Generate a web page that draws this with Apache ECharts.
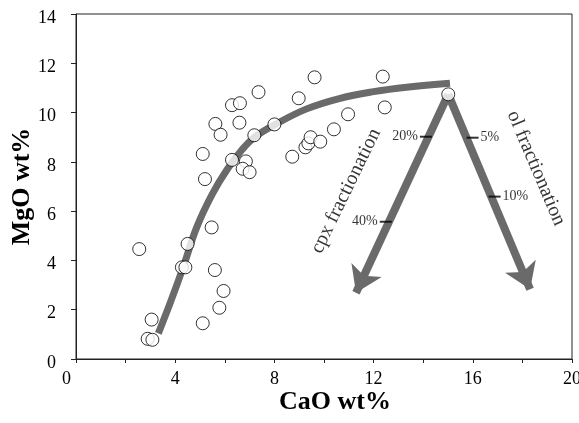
<!DOCTYPE html>
<html>
<head>
<meta charset="utf-8">
<script src="https://cdn.jsdelivr.net/npm/echarts@6/dist/echarts.min.js"></script>
<style>html,body{margin:0;padding:0;background:#fff}#c{width:579px;height:423px}</style>
</head>
<body>
<div id="c"></div>
<script>
// Sample data (CaO wt%, MgO wt%)
const caoValues = [2.55, 2.89, 3.08, 3.05, 4.27, 4.41, 4.50, 5.11, 5.11, 5.20, 5.47, 5.60, 5.78, 5.95,
  5.62, 5.83, 6.29, 6.61, 6.59, 6.29, 6.85, 6.72, 7.00, 7.19, 7.36, 8.00, 8.72, 8.98, 9.25, 9.37,
  9.46, 9.85, 9.62, 10.40, 10.97, 12.37, 12.45, 15.01];
const mgoValues = [4.46, 0.82, 0.78, 1.60, 3.72, 3.72, 4.67, 1.45, 8.32, 7.30, 5.34, 3.61, 2.08, 2.76,
  9.54, 9.10, 10.30, 10.38, 9.59, 8.08, 8.02, 7.72, 7.58, 9.08, 10.83, 9.52, 8.21, 10.58, 8.59, 8.75,
  9.00, 8.82, 11.43, 9.32, 9.93, 11.46, 10.21, 10.74];
// Trend curve
const trendCaO = [3.32, 3.80, 4.33, 4.87, 5.50, 6.10, 6.70, 7.20, 8.00, 9.30, 10.65, 12.00, 13.33, 15.08];
const trendMgO = [1.04, 2.28, 3.75, 5.35, 6.70, 7.70, 8.50, 9.00, 9.50, 10.15, 10.58, 10.85, 11.03, 11.19];
// Fractionation vectors
const vectorStart = [15.01, 10.74];
const cpxEnd = [11.29, 2.69];
const olEnd = [18.31, 2.83];
const cpxTickLabels = ['20%', '40%'];
const cpxTickCaO = [14.11, 12.49];
const cpxTickMgO = [9.02, 5.57];
const olTickLabels = ['5%', '10%'];
const olTickCaO = [15.99, 16.88];
const olTickMgO = [8.98, 6.59];
const vectorNames = ['cpx fractionation', 'ol fractionation'];
const vectorNameCaO = [10.89, 18.55];
const vectorNameMgO = [6.82, 7.74];
const vectorNameAngle = [64, -67];
const xAxisTitle = 'CaO wt%';
const yAxisTitle = 'MgO wt%';

const serif = '"Liberation Serif", "Times New Roman", serif';
const gray = '#6a6a6a';

const chart = echarts.init(document.getElementById('c'), null, {renderer: 'canvas'});
chart.setOption({
  animation: false,
  backgroundColor: '#fff',
  grid: {left: 76, right: 7, top: 14, bottom: 64, show: true, borderColor: '#222', borderWidth: 1,
    containLabel: false, outerBoundsMode: 'none'},
  xAxis: {
    type: 'value', min: 0, max: 20, interval: 2,
    name: xAxisTitle, nameLocation: 'middle', nameGap: 30, nameMoveOverlap: false,
    nameTextStyle: {fontFamily: serif, fontSize: 26, fontWeight: 'bold', color: '#000', padding: [0, 0, 0, 22]},
    axisLine: {show: true, lineStyle: {color: '#222', width: 1}},
    axisTick: {show: true, length: 4, inside: false, lineStyle: {color: '#222'}},
    splitLine: {show: false},
    axisLabel: {
      fontFamily: serif, fontSize: 18, color: '#000', margin: 11, hideOverlap: false,
      formatter: v => (v % 4 === 0 ? (v === 0 ? '{z|0}' : String(v)) : ''),
      rich: {z: {fontFamily: serif, fontSize: 18, color: '#000', width: 28, align: 'left'}}
    }
  },
  yAxis: {
    type: 'value', min: 0, max: 14, interval: 2,
    name: yAxisTitle, nameLocation: 'middle', nameGap: 41, nameRotate: 90, nameMoveOverlap: false,
    nameTextStyle: {fontFamily: serif, fontSize: 26, fontWeight: 'bold', color: '#000'},
    axisLine: {show: true, lineStyle: {color: '#222', width: 1}},
    axisTick: {show: true, length: 5, lineStyle: {color: '#222'}},
    splitLine: {show: false},
    axisLabel: {fontFamily: serif, fontSize: 18, color: '#000', margin: 20, verticalAlign: 'top', padding: [-5, 0, 0, 0]}
  },
  series: [
    {
      type: 'line', data: trendCaO.map((x, i) => [x, trendMgO[i]]),
      smooth: 0.4, showSymbol: false, symbol: 'none', z: 2,
      lineStyle: {color: gray, width: 7, cap: 'butt'}
    },
    {
      type: 'lines', coordinateSystem: 'cartesian2d', z: 3,
      symbol: ['none', 'arrow'], symbolSize: 25,
      lineStyle: {color: gray, width: 8, opacity: 1, curveness: 0},
      data: [{coords: [vectorStart, cpxEnd]}, {coords: [vectorStart, olEnd]}]
    },
    {
      type: 'scatter', z: 4, symbol: 'rect', symbolSize: [12, 2],
      itemStyle: {color: '#000'},
      label: {show: true, position: 'left', distance: 2, fontFamily: serif, fontSize: 14, color: '#000',
        formatter: p => cpxTickLabels[p.dataIndex]},
      data: cpxTickCaO.map((x, i) => [x, cpxTickMgO[i]])
    },
    {
      type: 'scatter', z: 4, symbol: 'rect', symbolSize: [12, 2],
      itemStyle: {color: '#000'},
      label: {show: true, position: 'right', distance: 2, fontFamily: serif, fontSize: 14, color: '#000',
        formatter: p => olTickLabels[p.dataIndex]},
      data: olTickCaO.map((x, i) => [x, olTickMgO[i]])
    },
    {
      type: 'scatter', z: 5, symbol: 'circle', symbolSize: 0,
      label: {show: true, position: 'inside', fontFamily: serif, fontSize: 20, color: '#000',
        formatter: p => vectorNames[p.dataIndex]},
      data: vectorNameCaO.map((x, i) => ({value: [x, vectorNameMgO[i]], label: {rotate: vectorNameAngle[i]}}))
    },
    {
      type: 'scatter', z: 6, symbol: 'circle', symbolSize: 13,
      itemStyle: {color: '#fff', borderColor: '#000', borderWidth: 1},
      data: caoValues.map((x, i) => [x, mgoValues[i]])
    }
  ]
});
</script>
</body>
</html>
